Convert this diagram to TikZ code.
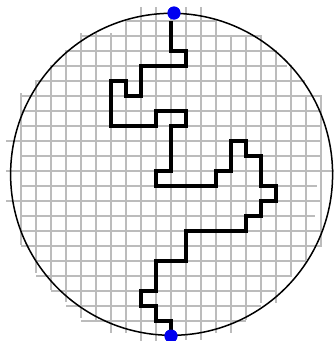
\documentclass[tikz,border=0pt]{standalone}
\begin{document}
\begin{tikzpicture}[x=1pt,y=-1pt,
  gridline/.style={draw={rgb,255:red,188;green,188;blue,188},line width=1.4pt},
  walk/.style={draw=black,line width=4.3pt,line join=miter},
  rim/.style={draw=black,line width=1.5pt},
  enddot/.style={circle,fill={rgb,255:red,0;green,0;blue,240},inner sep=0pt,minimum size=13pt}]
\useasboundingbox (0,0) rectangle (334,341);
% vertical grid lines: x / top / bottom
\foreach \x/\a/\b in {21/93/245,36/80/273,51/65/290,66/50/302,81/33/318,96/33/320,111/33/333,126/20/333,141/7/341,156/7/341,171/7/341,186/7/340,201/7/340,216/20/333,231/37/333,246/37/320,261/37/303,276/50/303,291/65/277,306/95/260,321/95/247}
  \draw[gridline] (\x,\a) -- (\x,\b);
% horizontal grid lines: y / left / right
\foreach \y/\a/\b in {21/126/216,36/80/262,51/65/275,66/50/287,81/36/305,96/21/320,111/21/320,126/21/320,141/6/322,156/21/322,171/6/334,186/21/317,201/6/322,216/21/315,231/21/320,246/21/320,261/36/306,276/36/291,291/51/276,306/66/261,321/81/246}
  \draw[gridline] (\a,\y) -- (\b,\y);
\draw[rim] (171.6,174.3) circle (161);
\node[enddot] (top) at (174,13) {};
\node[enddot] (bottom) at (171,336) {};
\draw[walk] (bottom.center) -- (171,321) -- (156,321) -- (156,306) -- (141,306) -- (141,291) -- (156,291) -- (156,261) -- (186,261) -- (186,231) -- (246,231) -- (246,216) -- (261,216) -- (261,201) -- (276,201) -- (276,186) -- (261,186) -- (261,156) -- (246,156) -- (246,141) -- (231,141) -- (231,171) -- (216,171) -- (216,186) -- (156,186) -- (156,171) -- (171,171) -- (171,126) -- (186,126) -- (186,111) -- (156,111) -- (156,126) -- (111,126) -- (111,81) -- (126,81) -- (126,96) -- (141,96) -- (141,66) -- (186,66) -- (186,51) -- (171,51) -- (171,21);
\node[enddot] at (top) {};
\node[enddot] at (bottom) {};
\end{tikzpicture}
\end{document}
